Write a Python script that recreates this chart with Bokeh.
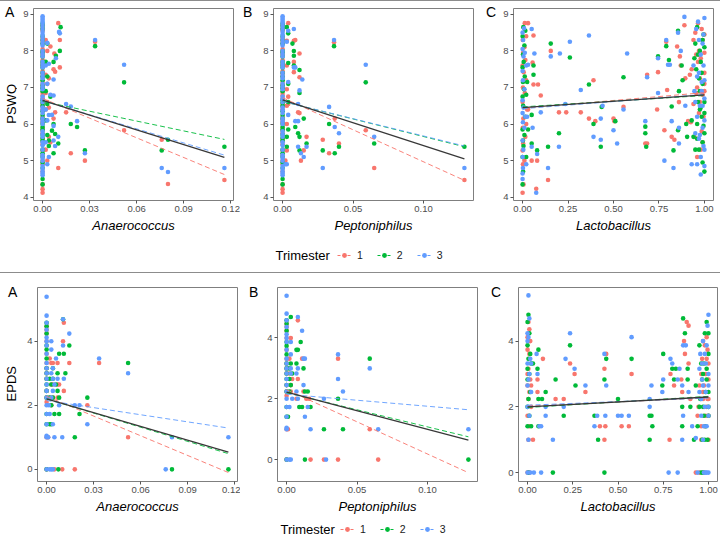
from bokeh.plotting import figure
from bokeh.models import Range1d, FixedTicker, NumeralTickFormatter, Label, Legend, LegendItem, Div
from bokeh.layouts import column, row
from bokeh.embed import file_html
from bokeh.resources import INLINE

FONT = "Liberation Sans"
COLORS = ["#F8766D", "#00BA38", "#619CFF"]
trimesters = ["1", "2", "3"]
NAN = float("nan")

# ---------------- tick values ----------------
ana_ticks = [0.0, 0.03, 0.06, 0.09, 0.12]
pep_ticks = [0.0, 0.05, 0.10]
lac_ticks = [0.0, 0.25, 0.50, 0.75, 1.00]
pswq_ticks = [4, 5, 6, 7, 8, 9]
epds_ticks = [0, 2, 4]

# ---------------- PSWQ: points at abundance 0 (panels A, B) ----------------
pswq_zero_t1 = [4.12, 4.22, 4.35, 4.70, 4.90, 5.00, 5.15, 5.28, 5.45, 5.52, 5.60, 5.75, 5.82, 5.90, 6.05,
                6.12, 6.20, 6.40, 6.48, 6.55, 6.70, 6.78, 6.85, 7.00, 7.08, 7.15, 7.30, 7.38, 7.45, 7.60,
                7.68, 7.75, 7.90, 7.98, 8.05, 8.20, 8.28, 8.35, 8.55, 8.62, 8.70]
pswq_zero_t2 = [4.35, 4.50, 4.80, 4.95, 5.10, 5.20, 5.30, 5.55, 5.62, 5.70, 5.85, 5.92, 6.00, 6.15, 6.25,
                6.35, 6.50, 6.58, 6.65, 6.90, 6.98, 7.05, 7.20, 7.30, 7.40, 7.55, 7.62, 7.70, 7.85, 7.95,
                8.00, 8.20, 8.30, 8.40, 8.60, 8.68, 8.75]
pswq_zero_t3 = [4.60, 4.65, 4.70, 4.78, 4.85, 5.00, 5.08, 5.15, 5.30, 5.42, 5.50, 5.65, 5.72, 5.80, 6.00,
                6.08, 6.15, 6.30, 6.38, 6.45, 6.60, 6.68, 6.75, 6.95, 7.02, 7.10, 7.25, 7.32, 7.40, 7.55,
                7.62, 7.70, 7.85, 7.92, 8.00, 8.15, 8.22, 8.30, 8.38, 8.45, 8.52, 8.60, 8.68, 8.75, 8.80,
                8.85, 8.90, 8.95]

# PSWQ vs Anaerococcus (non-zero abundances)
pswq_ana_t1 = [(0.002, 8.30), (0.003, 8.00), (0.002, 7.35), (0.003, 7.10), (0.002, 6.85), (0.003, 6.60),
               (0.002, 6.40), (0.004, 5.65), (0.002, 5.30), (0.003, 5.00), (0.005, 8.12), (0.004, 7.25),
               (0.004, 6.45), (0.005, 5.50), (0.0075, 7.93), (0.007, 7.50), (0.008, 7.43), (0.008, 6.32),
               (0.007, 6.15), (0.010, 8.76), (0.011, 8.30), (0.011, 7.55), (0.010, 4.80), (0.015, 6.32),
               (0.018, 5.20), (0.027, 5.00), (0.0335, 8.25), (0.052, 5.83), (0.076, 5.57), (0.080, 4.36),
               (0.116, 4.47)]
pswq_ana_t2 = [(0.003, 8.20), (0.002, 7.70), (0.003, 7.30), (0.002, 6.90), (0.003, 6.55), (0.002, 6.10),
               (0.003, 5.70), (0.004, 5.40), (0.005, 6.75), (0.004, 5.55), (0.0085, 7.87), (0.007, 7.70),
               (0.007, 6.00), (0.006, 5.82), (0.008, 5.73), (0.007, 5.20), (0.0115, 8.65), (0.011, 8.00),
               (0.010, 5.47), (0.018, 6.00), (0.022, 5.92), (0.027, 5.28), (0.0335, 8.13), (0.052, 7.14),
               (0.076, 5.28), (0.080, 5.57), (0.116, 5.38)]
pswq_ana_t3 = [(0.003, 8.22), (0.002, 7.60), (0.004, 7.65), (0.003, 7.10), (0.002, 6.40), (0.003, 6.10),
               (0.004, 5.10), (0.003, 4.90), (0.005, 6.80), (0.004, 6.25), (0.002, 5.50), (0.0085, 7.80),
               (0.007, 7.22), (0.007, 6.78), (0.006, 6.25), (0.007, 5.95), (0.007, 5.55), (0.008, 5.40),
               (0.0105, 8.52), (0.011, 8.48), (0.010, 5.65), (0.015, 6.55), (0.018, 6.48), (0.022, 6.08),
               (0.027, 5.20), (0.0335, 8.30), (0.052, 7.62), (0.076, 4.80), (0.080, 4.69), (0.116, 4.80)]

# PSWQ vs Peptoniphilus (non-zero abundances)
pswq_pep_t1 = [(0.004, 8.76), (0.003, 8.28), (0.003, 7.60), (0.003, 6.95), (0.004, 6.75), (0.003, 6.50),
               (0.003, 6.00), (0.003, 5.28), (0.002, 5.00), (0.004, 6.55), (0.008, 8.28), (0.009, 8.30),
               (0.008, 7.70), (0.008, 7.42), (0.012, 7.93), (0.012, 7.28), (0.012, 6.30), (0.011, 6.32),
               (0.013, 5.00), (0.017, 5.65), (0.015, 5.28), (0.033, 5.20), (0.0285, 5.57), (0.0365, 8.24),
               (0.037, 6.15), (0.040, 5.47), (0.059, 5.83), (0.065, 4.80), (0.129, 4.47)]
pswq_pep_t2 = [(0.003, 8.65), (0.004, 8.48), (0.004, 7.67), (0.004, 6.60), (0.004, 5.85), (0.003, 5.65),
               (0.003, 5.38), (0.004, 7.10), (0.007, 8.20), (0.008, 8.00), (0.008, 7.87), (0.008, 7.60),
               (0.009, 5.92), (0.012, 7.48), (0.012, 6.85), (0.011, 5.75), (0.012, 5.65), (0.012, 5.28),
               (0.015, 6.15), (0.017, 5.47), (0.033, 6.00), (0.0285, 5.28), (0.0365, 8.13), (0.037, 5.20),
               (0.040, 5.38), (0.059, 7.14), (0.065, 5.47), (0.129, 5.38)]
pswq_pep_t3 = [(0.004, 8.55), (0.003, 8.25), (0.004, 7.15), (0.004, 6.25), (0.003, 4.90), (0.002, 4.90),
               (0.008, 8.60), (0.008, 7.55), (0.009, 7.55), (0.009, 6.08), (0.012, 6.92), (0.011, 6.55),
               (0.011, 6.08), (0.011, 5.38), (0.013, 5.20), (0.014, 7.22), (0.015, 5.10), (0.017, 5.38),
               (0.033, 6.47), (0.0285, 4.80), (0.0365, 8.30), (0.037, 5.92), (0.040, 5.75), (0.059, 7.62),
               (0.065, 5.65), (0.129, 4.80)]

# PSWQ vs Lactobacillus
pswq_lac_t1 = [(0.000, 4.12), (0.005, 4.35), (0.002, 4.90), (0.010, 5.00), (0.000, 5.28), (0.003, 5.47),
               (0.015, 5.65), (0.001, 5.90), (0.020, 6.00), (0.004, 6.15), (0.025, 6.40), (0.000, 6.60),
               (0.012, 6.85), (0.002, 7.00), (0.020, 7.20), (0.006, 7.42), (0.000, 7.60), (0.015, 7.75),
               (0.003, 7.95), (0.010, 8.10), (0.001, 8.30), (0.020, 8.40), (0.012, 8.76), (0.030, 8.76),
               (0.030, 6.40), (0.075, 4.23), (0.14, 4.47), (0.08, 5.00), (0.05, 5.00), (0.10, 6.78),
               (0.085, 7.08), (0.06, 7.08), (0.055, 7.68), (0.155, 8.00), (0.20, 6.32), (0.24, 6.32),
               (0.32, 6.32), (0.365, 6.15), (0.39, 7.20), (0.40, 6.08), (0.50, 6.15), (0.505, 6.08),
               (0.555, 6.47), (0.675, 5.47), (0.685, 5.47), (0.685, 7.35), (0.745, 7.42), (0.74, 6.40),
               (0.78, 5.83), (0.79, 8.25), (0.795, 6.93), (0.82, 5.65), (0.835, 5.57), (0.85, 8.12),
               (0.86, 6.60), (0.865, 7.85), (0.87, 7.60), (0.89, 8.70), (0.895, 7.25), (0.91, 6.08),
               (0.06, 8.42), (0.93, 7.50), (0.94, 6.55), (0.95, 8.50), (0.96, 7.00), (0.96, 5.10),
               (0.97, 8.00), (0.97, 6.30), (0.98, 7.80), (0.98, 5.30), (0.99, 8.30), (0.99, 6.80),
               (1.00, 7.95), (1.00, 7.40), (1.00, 6.90), (0.995, 6.20), (0.985, 5.80), (0.975, 7.25),
               (0.955, 6.85), (0.945, 5.65), (0.965, 8.76), (1.00, 8.45), (0.92, 7.35), (0.925, 6.05),
               (0.965, 7.70), (0.975, 6.60), (0.985, 8.60), (0.99, 5.50), (1.00, 7.10), (0.955, 7.90),
               (0.94, 8.30)]
pswq_lac_t2 = [(0.000, 4.35), (0.003, 4.70), (0.000, 5.10), (0.005, 5.40), (0.002, 5.55), (0.010, 5.70),
               (0.000, 5.85), (0.015, 6.20), (0.003, 6.50), (0.000, 6.75), (0.008, 6.95), (0.002, 7.15),
               (0.012, 7.30), (0.000, 7.55), (0.006, 7.70), (0.002, 7.90), (0.010, 8.15), (0.000, 8.40),
               (0.004, 8.65), (0.015, 8.55), (0.020, 6.80), (0.025, 7.15), (0.030, 5.85), (0.020, 5.10),
               (0.05, 5.47), (0.08, 5.28), (0.14, 5.38), (0.06, 7.60), (0.06, 7.35), (0.05, 6.25),
               (0.155, 8.20), (0.20, 5.75), (0.26, 7.82), (0.365, 7.08), (0.39, 6.00), (0.43, 5.38),
               (0.435, 6.47), (0.51, 6.08), (0.555, 7.28), (0.675, 5.93), (0.675, 5.75), (0.68, 5.38),
               (0.745, 7.85), (0.79, 8.13), (0.805, 7.75), (0.82, 6.48), (0.83, 5.28), (0.855, 8.55),
               (0.86, 6.90), (0.855, 5.83), (0.90, 6.00), (0.905, 5.65), (0.875, 7.60), (0.88, 7.20),
               (0.93, 6.10), (0.94, 5.65), (0.95, 8.20), (0.955, 7.50), (0.96, 8.65), (0.965, 6.60),
               (0.97, 5.30), (0.975, 8.00), (0.98, 7.70), (0.985, 6.20), (0.99, 4.95), (0.995, 8.45),
               (1.00, 6.60), (1.00, 5.75), (1.00, 4.70), (0.99, 7.10), (0.98, 6.45), (0.97, 7.25),
               (0.96, 6.00), (0.95, 5.30), (0.945, 7.80), (1.00, 6.30), (0.995, 5.95), (0.965, 7.90),
               (0.975, 6.90), (0.985, 7.40), (0.99, 5.50), (1.00, 8.10), (0.96, 5.60), (0.975, 6.40),
               (0.99, 8.30)]
pswq_lac_t3 = [(0.000, 4.50), (0.000, 4.65), (0.002, 4.80), (0.000, 5.10), (0.004, 5.30), (0.000, 5.55),
               (0.010, 5.90), (0.002, 6.05), (0.000, 6.30), (0.015, 6.20), (0.005, 6.45), (0.000, 6.65),
               (0.010, 6.95), (0.002, 7.20), (0.000, 7.45), (0.020, 7.60), (0.005, 7.85), (0.000, 8.05),
               (0.012, 7.95), (0.003, 8.30), (0.000, 8.50), (0.008, 8.62), (0.030, 7.62), (0.025, 6.20),
               (0.020, 4.90), (0.075, 4.12), (0.14, 4.80), (0.08, 5.18), (0.05, 5.38), (0.05, 8.60),
               (0.065, 7.93), (0.10, 6.32), (0.055, 5.90), (0.155, 7.85), (0.205, 7.93), (0.20, 5.38),
               (0.26, 8.25), (0.235, 6.55), (0.32, 6.93), (0.365, 8.42), (0.39, 5.65), (0.43, 6.15),
               (0.43, 5.57), (0.44, 6.50), (0.50, 5.83), (0.52, 5.47), (0.555, 6.40), (0.575, 7.93),
               (0.675, 6.08), (0.685, 7.28), (0.745, 7.80), (0.745, 6.85), (0.78, 5.00), (0.79, 8.30),
               (0.80, 7.62), (0.81, 7.62), (0.82, 6.08), (0.83, 4.80), (0.855, 8.50), (0.86, 5.90),
               (0.86, 5.47), (0.87, 8.00), (0.89, 8.93), (0.895, 6.50), (0.93, 4.90), (0.94, 7.60),
               (0.95, 6.60), (0.96, 4.90), (0.965, 8.80), (0.97, 7.40), (0.975, 5.70), (0.98, 4.62),
               (0.985, 6.90), (0.99, 8.20), (0.995, 5.40), (1.00, 8.90), (1.00, 7.20), (1.00, 4.85),
               (0.99, 6.50), (0.98, 7.90), (0.97, 5.60), (0.96, 6.20), (0.95, 5.75), (0.955, 8.60),
               (0.945, 6.90), (1.00, 6.10), (0.995, 7.60), (1.00, 5.30), (0.96, 7.30), (0.97, 8.30),
               (0.98, 5.10), (0.99, 5.90), (1.00, 6.70), (0.975, 6.50), (0.985, 7.15), (0.995, 8.45)]

# ---------------- EPDS: points at abundance 0 (panels A, B) ----------------
epds_zero_t1 = [4.47, 4.36, 4.24, 4.00, 3.61, 3.32, 3.16, 3.00, 2.83, 2.45, 2.24, 2.10, 1.00, 0.00]
epds_zero_t2 = [4.58, 4.47, 4.24, 3.87, 3.74, 3.46, 3.16, 3.00, 2.83, 2.65, 2.45, 2.24, 1.73, 1.41, 0.00]
epds_zero_t3 = [5.39, 4.80, 4.58, 4.36, 4.12, 4.00, 3.87, 3.61, 3.32, 3.16, 3.00, 2.83, 2.65, 2.45, 2.24,
                2.00, 1.73, 1.41, 1.05, 1.00, 0.00]

epds_ana_t1 = [(0.002, 3.46), (0.003, 3.32), (0.004, 3.32), (0.003, 2.65), (0.004, 2.65), (0.002, 2.24),
               (0.003, 2.00), (0.001, 1.00), (0.005, 0.00), (0.007, 3.32), (0.007, 2.65), (0.007, 2.24),
               (0.0105, 4.00), (0.011, 4.58), (0.011, 2.45), (0.010, 0.00), (0.0145, 3.32), (0.018, 0.00),
               (0.026, 2.00), (0.0335, 3.32), (0.052, 1.00), (0.004, 2.24), (0.008, 2.65)]
epds_ana_t2 = [(0.002, 2.83), (0.003, 2.65), (0.004, 2.24), (0.003, 2.00), (0.005, 1.73), (0.002, 1.41),
               (0.003, 1.41), (0.004, 3.16), (0.008, 3.61), (0.007, 3.00), (0.006, 2.65), (0.007, 2.45),
               (0.008, 2.24), (0.008, 1.73), (0.0075, 0.00), (0.0105, 4.69), (0.011, 3.61), (0.012, 3.00),
               (0.0145, 3.87), (0.018, 1.00), (0.021, 1.73), (0.026, 2.24), (0.052, 3.32), (0.080, 0.00),
               (0.116, 0.00), (0.004, 2.83), (0.002, 2.24)]
epds_ana_t3 = [(0.0015, 2.00), (0.002, 1.73), (0.003, 4.00), (0.003, 3.74), (0.004, 3.16), (0.004, 2.83),
               (0.004, 2.45), (0.003, 2.24), (0.004, 1.41), (0.005, 1.00), (0.003, 0.00), (0.002, 0.00),
               (0.004, 0.00), (0.001, 1.00), (0.006, 3.46), (0.007, 2.83), (0.008, 2.00), (0.0105, 4.69),
               (0.0105, 3.87), (0.011, 2.83), (0.010, 1.00), (0.0145, 4.24), (0.018, 2.00), (0.021, 2.00),
               (0.026, 1.41), (0.0335, 3.46), (0.052, 3.00), (0.076, 0.00), (0.080, 1.00), (0.116, 1.00),
               (0.005, 2.65), (0.003, 3.00)]

epds_pep_t1 = [(0.003, 4.00), (0.002, 3.32), (0.003, 2.45), (0.003, 2.24), (0.001, 1.00), (0.008, 4.58),
               (0.008, 2.65), (0.007, 2.00), (0.011, 3.32), (0.012, 2.24), (0.014, 2.00), (0.016, 2.00),
               (0.0365, 3.32), (0.0365, 0.00), (0.017, 0.00), (0.0265, 0.00), (0.059, 1.00), (0.065, 0.00),
               (0.004, 2.65), (0.002, 2.83)]
epds_pep_t2 = [(0.003, 4.69), (0.003, 3.16), (0.002, 3.00), (0.002, 2.65), (0.002, 2.24), (0.001, 1.41),
               (0.007, 3.61), (0.008, 3.61), (0.007, 3.16), (0.010, 3.87), (0.012, 3.00), (0.013, 2.24),
               (0.015, 2.24), (0.017, 1.73), (0.009, 1.73), (0.011, 1.73), (0.013, 0.00), (0.0265, 1.00),
               (0.0365, 2.00), (0.040, 1.00), (0.059, 3.32), (0.129, 0.00), (0.004, 2.83), (0.003, 2.45)]
epds_pep_t3 = [(0.003, 3.87), (0.003, 3.46), (0.003, 3.00), (0.003, 2.83), (0.002, 1.73), (0.002, 0.00),
               (0.003, 0.00), (0.008, 4.69), (0.011, 4.24), (0.012, 3.32), (0.013, 3.32), (0.012, 2.45),
               (0.008, 3.00), (0.007, 2.83), (0.007, 2.24), (0.008, 2.00), (0.015, 1.73), (0.013, 1.41),
               (0.017, 1.00), (0.0265, 2.00), (0.028, 0.00), (0.0365, 3.46), (0.0365, 2.65), (0.040, 2.24),
               (0.059, 3.00), (0.065, 1.00), (0.129, 1.00), (0.004, 2.00)]

epds_lac_t1 = [(0.005, 4.58), (0.010, 4.36), (0.000, 4.12), (0.015, 4.00), (0.000, 3.74), (0.010, 3.61),
               (0.005, 3.16), (0.000, 3.00), (0.015, 2.83), (0.000, 2.65), (0.010, 2.45), (0.005, 2.24),
               (0.020, 2.00), (0.000, 1.73), (0.010, 1.41), (0.005, 1.00), (0.000, 0.00), (0.010, 0.00),
               (0.020, 2.65), (0.03, 1.00), (0.055, 2.83), (0.055, 2.45), (0.085, 3.46), (0.155, 2.24),
               (0.20, 2.24), (0.235, 3.32), (0.26, 3.00), (0.32, 2.45), (0.40, 1.41), (0.425, 3.16),
               (0.425, 1.00), (0.435, 3.61), (0.43, 1.41), (0.52, 1.41), (0.56, 1.41), (0.575, 3.00),
               (0.785, 1.00), (0.79, 3.00), (0.81, 2.65), (0.85, 2.83), (0.855, 2.45), (0.865, 4.00),
               (0.88, 4.58), (0.89, 4.47), (0.89, 3.32), (0.90, 2.24), (0.93, 0.00), (0.87, 3.61),
               (0.94, 1.73), (0.95, 2.65), (0.96, 1.00), (0.965, 3.46), (0.97, 2.24), (0.975, 0.00),
               (0.98, 1.41), (0.985, 3.00), (0.99, 2.00), (0.995, 3.74), (1.00, 2.83), (1.00, 1.73),
               (1.00, 1.00), (0.99, 4.12), (0.98, 3.87), (0.97, 2.45), (0.96, 1.41), (0.95, 0.00),
               (1.00, 3.32), (0.995, 2.24), (0.945, 2.00), (0.96, 3.00), (0.975, 2.65), (0.985, 1.73),
               (0.99, 3.46), (1.00, 2.24), (0.97, 4.00)]
epds_lac_t2 = [(0.005, 4.80), (0.000, 4.58), (0.010, 4.24), (0.000, 3.87), (0.015, 3.61), (0.005, 3.46),
               (0.020, 3.32), (0.000, 3.16), (0.010, 3.00), (0.000, 2.83), (0.015, 2.45), (0.005, 2.24),
               (0.000, 2.00), (0.010, 1.73), (0.000, 1.41), (0.020, 1.41), (0.005, 0.00), (0.03, 3.32),
               (0.055, 3.16), (0.06, 3.74), (0.06, 2.24), (0.06, 1.41), (0.08, 2.24), (0.10, 2.45),
               (0.14, 0.00), (0.155, 2.83), (0.20, 1.73), (0.235, 3.87), (0.265, 2.65), (0.37, 1.73),
               (0.39, 1.00), (0.425, 2.83), (0.425, 0.00), (0.435, 3.46), (0.50, 2.24), (0.575, 3.46),
               (0.675, 1.73), (0.685, 1.73), (0.69, 1.41), (0.675, 1.00), (0.75, 3.61), (0.745, 2.65),
               (0.80, 3.16), (0.81, 2.83), (0.82, 3.16), (0.855, 2.00), (0.855, 1.41), (0.86, 4.69),
               (0.87, 4.24), (0.885, 3.16), (0.885, 2.83), (0.90, 2.00), (0.92, 1.00), (0.93, 2.65),
               (0.94, 1.41), (0.95, 3.87), (0.955, 2.24), (0.96, 0.00), (0.965, 1.00), (0.97, 3.00),
               (0.975, 1.73), (0.98, 4.24), (0.985, 2.45), (0.99, 4.58), (0.995, 1.00), (1.00, 4.24),
               (1.00, 2.00), (1.00, 3.61), (0.99, 2.83), (0.98, 1.00), (0.97, 0.00), (0.96, 3.32),
               (0.95, 2.00), (1.00, 2.45), (0.965, 2.83), (0.975, 3.32), (0.985, 1.41), (0.99, 3.16),
               (1.00, 1.73), (0.97, 2.00)]
epds_lac_t3 = [(0.005, 5.39), (0.000, 4.24), (0.010, 4.69), (0.005, 4.12), (0.000, 4.00), (0.015, 3.46),
               (0.000, 3.32), (0.010, 3.00), (0.005, 2.83), (0.000, 2.65), (0.020, 2.45), (0.000, 2.00),
               (0.010, 1.73), (0.005, 1.00), (0.000, 0.00), (0.015, 0.00), (0.020, 3.32), (0.035, 0.00),
               (0.05, 3.61), (0.065, 1.41), (0.075, 1.41), (0.075, 0.00), (0.10, 2.00), (0.10, 1.73),
               (0.14, 1.00), (0.20, 2.00), (0.21, 3.46), (0.235, 4.24), (0.26, 3.16), (0.32, 2.65),
               (0.37, 1.41), (0.385, 1.73), (0.425, 3.61), (0.43, 1.73), (0.435, 2.65), (0.50, 1.73),
               (0.52, 1.73), (0.56, 1.73), (0.575, 4.12), (0.675, 2.24), (0.675, 2.00), (0.685, 2.65),
               (0.75, 2.83), (0.745, 2.45), (0.78, 0.00), (0.83, 0.00), (0.79, 3.46), (0.80, 3.32),
               (0.83, 2.83), (0.84, 3.16), (0.855, 2.65), (0.855, 1.00), (0.86, 1.73), (0.86, 3.87),
               (0.875, 3.87), (0.89, 2.45), (0.91, 1.41), (0.93, 1.05), (0.055, 3.00), (0.94, 0.00),
               (0.95, 2.45), (0.955, 3.61), (0.96, 1.73), (0.965, 2.83), (0.97, 4.00), (0.975, 0.00),
               (0.98, 2.00), (0.985, 3.32), (0.99, 1.41), (0.995, 4.47), (1.00, 4.80), (1.00, 3.00),
               (1.00, 1.73), (1.00, 0.00), (0.99, 0.00), (0.98, 3.61), (0.97, 1.00), (0.96, 2.24),
               (0.95, 3.16), (1.00, 2.65), (0.985, 0.00), (0.965, 3.32), (0.975, 1.41), (0.985, 2.45),
               (0.99, 3.87), (1.00, 2.00), (0.97, 2.65)]

# ---------------- fitted lines: [start, end] y for overall, T1, T2, T3 ----------------
ana_fit_x = [0.0, 0.116]
pep_fit_x = [0.0, 0.129]
lac_fit_x = [0.0, 1.0]
pswq_ana_fits = [[6.65, 5.09], [6.70, 4.62], [6.62, 5.58], [6.64, 5.15]]
pswq_pep_fits = [[6.66, 5.05], [6.72, 4.46], [6.62, 5.38], [6.62, 5.40]]
pswq_lac_fits = [[6.45, 6.80], [6.43, 6.86], [6.47, 6.78], [6.42, 6.81]]
epds_ana_fits = [[2.20, 0.54], [2.28, -0.10], [2.20, 0.49], [2.15, 1.29]]
epds_pep_fits = [[2.22, 0.64], [2.30, -0.43], [2.20, 0.75], [2.15, 1.64]]
epds_lac_fits = [[2.00, 2.30], [2.02, 2.28], [1.98, 2.32], [2.05, 2.27]]


def with_zero(zero_vals, pairs):
    xs = [0.0 for _ in zero_vals] + [a for a, b in pairs]
    ys = list(zero_vals) + [b for a, b in pairs]
    return xs, ys


def split(pairs):
    return [a for a, b in pairs], [b for a, b in pairs]


def side_div(width, height, letter, letter_left, letter_top, ylab, frame_top, frame_h, ylab_cx):
    html = ('<div style="position:relative;width:%dpx;height:%dpx;font-family:\'Liberation Sans\',Arial,'
            'sans-serif;color:#000;">' % (width, height))
    html += ('<div style="position:absolute;left:%dpx;top:%dpx;font-size:14px;line-height:14px;">%s</div>'
             % (letter_left, letter_top, letter))
    if ylab:
        html += ('<div style="position:absolute;left:%dpx;top:%dpx;width:16px;height:%dpx;display:flex;'
                 'align-items:center;justify-content:center;"><span style="writing-mode:vertical-rl;'
                 'transform:rotate(180deg);font-size:13px;line-height:16px;white-space:nowrap;">%s</span></div>'
                 % (ylab_cx - 8, frame_top, frame_h, ylab))
    html += '</div>'
    return Div(text=html, width=width, height=height, margin=0)


def panel(width, height, mb, xr, yr, xticks, yticks, xlab, groups, fit_x, fits):
    p = figure(width=width, height=height, x_range=Range1d(*xr), y_range=Range1d(*yr),
               output_backend="svg", toolbar_location=None,
               min_border_left=mb[0], min_border_right=mb[1], min_border_top=mb[2], min_border_bottom=mb[3])
    p.xgrid.visible = False
    p.ygrid.visible = False
    p.outline_line_color = "#7f7f7f"
    p.outline_line_width = 1
    p.background_fill_color = "white"
    p.border_fill_color = "white"
    p.xaxis.ticker = FixedTicker(ticks=xticks)
    p.xaxis.formatter = NumeralTickFormatter(format="0.00")
    p.yaxis.ticker = FixedTicker(ticks=yticks)
    for ax in (p.xaxis[0], p.yaxis[0]):
        ax.axis_line_color = None
        ax.major_tick_line_color = "#555555"
        ax.major_tick_in = 0
        ax.major_tick_out = 3
        ax.minor_tick_line_color = None
        ax.major_label_text_font = FONT
        ax.major_label_text_font_size = "9.5px"
        ax.major_label_text_color = "#4d4d4d"
        ax.major_label_standoff = 2
        ax.axis_label_standoff = 3
        ax.axis_label_text_font = FONT
        ax.axis_label_text_font_size = "13px"
        ax.axis_label_text_color = "#000000"
    p.xaxis.axis_label = xlab
    p.xaxis.axis_label_text_font_style = "italic"
    for i, (xs, ys) in enumerate(groups):
        p.scatter(x=xs, y=ys, size=4.6, fill_color=COLORS[i], line_color=None)
    for i in range(3):
        p.line(x=fit_x, y=fits[i + 1], line_color=COLORS[i], line_dash="5 3", line_width=1, line_alpha=0.9)
    p.line(x=fit_x, y=fits[0], line_color="#383838", line_width=1.3)
    return p


def legend_fig(height, title_x, items_x, yc):
    lp = figure(width=720, height=height, x_range=Range1d(0, 720), y_range=Range1d(0, height),
                output_backend="svg", toolbar_location=None, min_border=0,
                x_axis_location=None, y_axis_location=None, outline_line_color=None)
    lp.grid.visible = False
    items = []
    for i, c in enumerate(COLORS):
        l = lp.line(x=[NAN, NAN], y=[NAN, NAN], line_color=c, line_dash="3 2", line_width=1)
        s = lp.scatter(x=[NAN], y=[NAN], size=4.6, fill_color=c, line_color=None)
        items.append(LegendItem(label=trimesters[i], renderers=[l, s]))
    leg = Legend(items=items, orientation="horizontal", location=(items_x, yc - 6),
                 glyph_width=14, glyph_height=12, label_height=12, label_width=0,
                 label_standoff=6, spacing=14, padding=0, margin=0,
                 border_line_color=None, background_fill_alpha=0,
                 label_text_font=FONT, label_text_font_size="10.5px", label_text_color="#1a1a1a")
    lp.add_layout(leg, "center")
    lp.add_layout(Label(x=title_x, y=yc, text="Trimester", text_font=FONT, text_font_size="13px",
                        text_color="#000000", text_align="left", text_baseline="middle"))
    return lp


# ---------------- top row (PSWQ) ----------------
top_h = 239
top_y = (3.91, 9.16)
top_mb = (17, 7, 7, 40)
pA = panel(224, top_h, top_mb, (-0.0058, 0.1218), top_y, ana_ticks, pswq_ticks, "Anaerococcus",
           [with_zero(pswq_zero_t1, pswq_ana_t1), with_zero(pswq_zero_t2, pswq_ana_t2),
            with_zero(pswq_zero_t3, pswq_ana_t3)], ana_fit_x, pswq_ana_fits)
pB = panel(224, top_h, top_mb, (-0.00645, 0.13545), top_y, pep_ticks, pswq_ticks, "Peptoniphilus",
           [with_zero(pswq_zero_t1, pswq_pep_t1), with_zero(pswq_zero_t2, pswq_pep_t2),
            with_zero(pswq_zero_t3, pswq_pep_t3)], pep_fit_x, pswq_pep_fits)
pC = panel(224, top_h, top_mb, (-0.05, 1.05), top_y, lac_ticks, pswq_ticks, "Lactobacillus",
           [split(pswq_lac_t1), split(pswq_lac_t2), split(pswq_lac_t3)], lac_fit_x, pswq_lac_fits)
dA = side_div(16, top_h, "A", 5, 4, "PSWQ", 7, 192, 12)
dB = side_div(16, top_h, "B", 3, 4, None, 7, 192, 12)
dC = side_div(16, top_h, "C", 6, 4, None, 7, 192, 12)

# ---------------- bottom row (EPDS) ----------------
bot_h = 246
qA = panel(220, bot_h, (17, 3, 14, 38), (-0.0058, 0.1218), (-0.38, 5.68), ana_ticks, epds_ticks,
           "Anaerococcus",
           [with_zero(epds_zero_t1, epds_ana_t1), with_zero(epds_zero_t2, epds_ana_t2),
            with_zero(epds_zero_t3, epds_ana_t3)], ana_fit_x, epds_ana_fits)
qB = panel(220, bot_h, (17, 3, 14, 38), (-0.00645, 0.13545), (-0.72, 5.66), pep_ticks, epds_ticks,
           "Peptoniphilus",
           [with_zero(epds_zero_t1, epds_pep_t1), with_zero(epds_zero_t2, epds_pep_t2),
            with_zero(epds_zero_t3, epds_pep_t3)], pep_fit_x, epds_pep_fits)
qC = panel(220, bot_h, (18, 3, 14, 38), (-0.05, 1.05), (-0.27, 5.63), lac_ticks, epds_ticks,
           "Lactobacillus",
           [split(epds_lac_t1), split(epds_lac_t2), split(epds_lac_t3)], lac_fit_x, epds_lac_fits)
eA = side_div(20, bot_h, "A", 8, 12, "EPDS", 14, 194, 12)
eB = side_div(20, bot_h, "B", 9, 12, None, 14, 194, 12)
eC = side_div(20, bot_h, "C", 11, 12, None, 14, 194, 12)

leg1 = legend_fig(32, 275, 337, 17)
leg2 = legend_fig(22, 280, 340, 12)

top_line = Div(text="", width=720, height=1, margin=0, styles={"background-color": "#8c8c8c"})
sep_line = Div(text="", width=720, height=1, margin=0, styles={"background-color": "#8c8c8c"})

layout = column(top_line,
                row(dA, pA, dB, pB, dC, pC),
                leg1, sep_line,
                row(eA, qA, eB, qB, eC, qC),
                leg2)

with open("out.html", "w") as f:
    f.write(file_html(layout, INLINE))
